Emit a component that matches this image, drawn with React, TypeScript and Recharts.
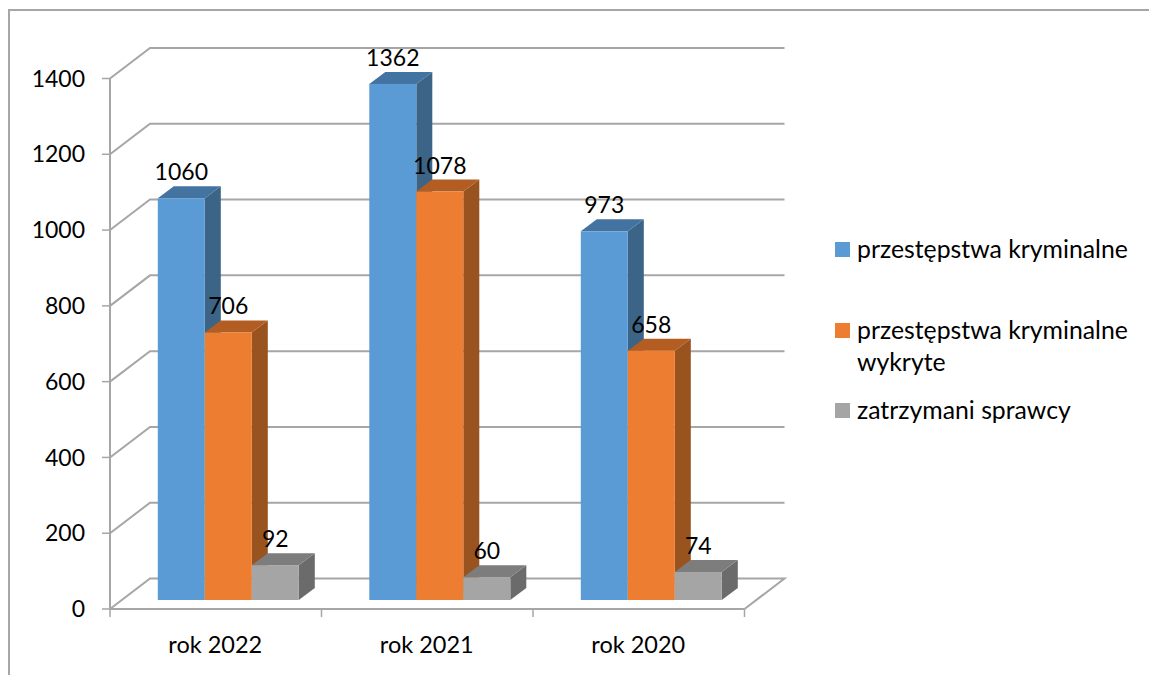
import { BarChart, Bar, XAxis, YAxis, CartesianGrid, Legend, LabelList } from 'recharts'

const CATEGORIES = ['rok 2022', 'rok 2021', 'rok 2020']
const CRIMES = [1060, 1362, 973]
const DETECTED = [706, 1078, 658]
const DETAINED = [92, 60, 74]
const Y_TICKS = [0, 200, 400, 600, 800, 1000, 1200, 1400]

const FONT = 'Lato, sans-serif'
const GRID = '#a6a6a6'
const WIDTH = 1149
const HEIGHT = 675
const PLOT_LEFT = 110
const PLOT_RIGHT = 744.5
const PLOT_TOP = 78.5
const PLOT_BOTTOM = 609
const BAND = (PLOT_RIGHT - PLOT_LEFT) / 3

// offset of the back wall from the front of the box
const WALL_DX = 40
const WALL_DY = -30.5
// bars stand inside the box, not on its front edge
const BAR_DX = 12.8
const BAR_DY = -9
const DEPTH_DX = 16
const DEPTH_DY = -12

const data = CATEGORIES.map((name, i) => ({
  name,
  crimes: CRIMES[i],
  detected: DETECTED[i],
  detained: DETAINED[i],
}))

function Bar3D({ x, y, width, height, fill, topFill, sideFill }: any) {
  const l = x + BAR_DX
  const r = l + width
  const t = y + BAR_DY
  const b = t + height
  return (
    <g>
      <polygon points={`${r},${t} ${r + DEPTH_DX},${t + DEPTH_DY} ${r + DEPTH_DX},${b + DEPTH_DY} ${r},${b}`} fill={sideFill} />
      <polygon points={`${l},${t} ${l + DEPTH_DX},${t + DEPTH_DY} ${r + DEPTH_DX},${t + DEPTH_DY} ${r},${t}`} fill={topFill} />
      <rect x={l} y={t} width={width} height={height} fill={fill} />
    </g>
  )
}

function WallLine({ x1, y1, x2 }: any) {
  const backY = y1 + WALL_DY
  const isFloor = Math.abs(y1 - PLOT_BOTTOM) < 1
  const pts = [`${x1},${y1}`, `${x1 + WALL_DX},${backY}`, `${x2 + WALL_DX},${backY}`]
  if (isFloor) pts.push(`${x2},${y1}`)
  return <polyline points={pts.join(' ')} fill="none" stroke={GRID} strokeWidth={2} />
}

function CategoryTick({ x, payload, index }: any) {
  const left = x - BAND / 2
  return (
    <g>
      <line x1={left} y1={PLOT_BOTTOM} x2={left} y2={PLOT_BOTTOM + 8} stroke={GRID} strokeWidth={1.5} />
      {index === CATEGORIES.length - 1 && (
        <line x1={left + BAND} y1={PLOT_BOTTOM} x2={left + BAND} y2={PLOT_BOTTOM + 8} stroke={GRID} strokeWidth={1.5} />
      )}
      <text x={x - 0.5} y={644} textAnchor="middle" dominantBaseline="central" fontFamily={FONT} fontSize={23.5} fill="#000">
        {payload.value}
      </text>
    </g>
  )
}

function BarLabel({ x, y, width, value }: any) {
  return (
    <text
      x={x + BAR_DX + width / 2}
      y={y + BAR_DY - 27}
      textAnchor="middle"
      dominantBaseline="central"
      fontFamily={FONT}
      fontSize={23}
      fill="#000"
    >
      {value}
    </text>
  )
}

function LegendBox({ payload }: any) {
  const gaps = [0, 49, 16]
  return (
    <div style={{ fontFamily: FONT, fontSize: 24.8, lineHeight: '32px', color: '#000' }}>
      {(payload || []).map((item: any, i: number) => (
        <div key={item.value} style={{ display: 'flex', marginTop: gaps[i] }}>
          <span style={{ flex: '0 0 15px', height: 15, marginTop: 9, marginRight: 7, background: item.color }} />
          <span style={{ width: 285 }}>{item.value}</span>
        </div>
      ))}
    </div>
  )
}

export default function App() {
  return (
    <div style={{ position: 'absolute', left: 0, top: 0, width: WIDTH, height: HEIGHT, background: '#fff', overflow: 'hidden' }}>
      <div style={{ position: 'absolute', left: 8, top: 9, right: -4, bottom: -4, border: `2px solid ${GRID}` }} />
      <BarChart
        width={WIDTH}
        height={HEIGHT}
        data={data}
        barSize={47}
        barGap={0}
        margin={{ top: PLOT_TOP, right: WIDTH - PLOT_RIGHT, bottom: 0, left: 0 }}
        style={{ position: 'absolute', left: 0, top: 0 }}
      >
        <CartesianGrid horizontal={(p: any) => <WallLine key={p.key} {...p} />} vertical={false} />
        <XAxis
          dataKey="name"
          axisLine={{ stroke: GRID, strokeWidth: 2 }}
          tickLine={false}
          tick={CategoryTick}
          interval={0}
          height={HEIGHT - PLOT_BOTTOM}
        />
        <YAxis
          width={PLOT_LEFT}
          domain={[0, 1400]}
          ticks={Y_TICKS}
          interval={0}
          axisLine={{ stroke: GRID, strokeWidth: 2 }}
          tickLine={{ stroke: GRID, strokeWidth: 1.5 }}
          tickSize={8}
          tickMargin={17}
          tick={{ fontFamily: FONT, fontSize: 23, fill: '#000' }}
        />
        <Legend
          layout="vertical"
          align="center"
          verticalAlign="middle"
          content={LegendBox}
          wrapperStyle={{ left: 835, top: 233, width: 310 }}
        />
        <Bar
          dataKey="crimes"
          name="przestępstwa kryminalne"
          fill="#5b9bd5"
          isAnimationActive={false}
          shape={(p: any) => <Bar3D {...p} fill="#5b9bd5" topFill="#4373a0" sideFill="#3b6487" />}
        >
          <LabelList dataKey="crimes" content={BarLabel} />
        </Bar>
        <Bar
          dataKey="detected"
          name="przestępstwa kryminalne wykryte"
          fill="#ed7d31"
          isAnimationActive={false}
          shape={(p: any) => <Bar3D {...p} fill="#ed7d31" topFill="#b35d22" sideFill="#99531e" />}
        >
          <LabelList dataKey="detected" content={BarLabel} />
        </Bar>
        <Bar
          dataKey="detained"
          name="zatrzymani sprawcy"
          fill="#a5a5a5"
          isAnimationActive={false}
          shape={(p: any) => <Bar3D {...p} fill="#a5a5a5" topFill="#7d7d7d" sideFill="#6b6b6b" />}
        >
          <LabelList dataKey="detained" content={BarLabel} />
        </Bar>
      </BarChart>
    </div>
  )
}
